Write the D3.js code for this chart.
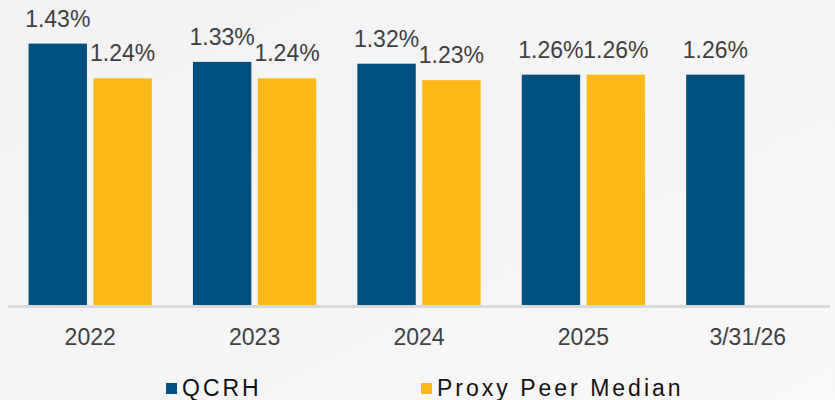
<!DOCTYPE html>
<html>
<head>
<meta charset="utf-8">
<script src="https://cdn.jsdelivr.net/npm/d3@7"></script>
<style>
  html, body { margin: 0; padding: 0; background: #f4f4f4; }
  svg { display: block; font-family: "Liberation Sans", Arial, Helvetica, sans-serif; }
</style>
</head>
<body>
<div id="chart"></div>
<script>
// --- data ---
const categories = ['2022', '2023', '2024', '2025', '3/31/26'];
const seriesNames = ['QCRH', 'Proxy Peer Median'];
const qcrhValues = [1.43, 1.33, 1.32, 1.26, 1.26];
const peerValues = [1.24, 1.24, 1.23, 1.26, null];
const seriesColors = ['#00507f', '#fdb917'];

const width = 835;
const height = 400;

const svg = d3.select('#chart')
    .append('svg')
        .attr('width', width)
        .attr('height', height);

// background: soft grey gradient
const defs = svg.append('defs');
const grad = defs.append('linearGradient')
    .attr('id', 'bg')
    .attr('x1', 0).attr('y1', 0).attr('x2', 1).attr('y2', 1);
grad.append('stop').attr('offset', '0%').attr('stop-color', '#f2f2f2');
grad.append('stop').attr('offset', '60%').attr('stop-color', '#f5f5f5');
grad.append('stop').attr('offset', '100%').attr('stop-color', '#f8f8f8');

svg.append('rect')
    .attr('width', width)
    .attr('height', height)
    .attr('fill', 'url(#bg)');

// scales
const x = d3.scaleBand()
    .domain(categories)
    .range([8, 830])
    .paddingInner(0.25)
    .paddingOuter(0.125);

const xSub = d3.scaleBand()
    .domain(seriesNames)
    .range([0, x.bandwidth()])
    .paddingInner(0.1);

const y = d3.scaleLinear()
    .domain([0, 1.6])
    .range([305, 12.5]);

// build rows for the bars
const rows = [];
categories.forEach((c, i) => {
    rows.push({cat: c, series: seriesNames[0], value: qcrhValues[i]});
    if (peerValues[i] != null) rows.push({cat: c, series: seriesNames[1], value: peerValues[i]});
});

const color = d3.scaleOrdinal().domain(seriesNames).range(seriesColors);

// baseline
svg.append('line')
    .attr('x1', 8)
    .attr('x2', 830)
    .attr('y1', y(0) + 1.5)
    .attr('y2', y(0) + 1.5)
    .attr('stroke', '#d9d9d9')
    .attr('stroke-width', 3);

// bars
svg.append('g')
    .selectAll('rect')
    .data(rows)
    .join('rect')
        .attr('x', d => x(d.cat) + xSub(d.series))
        .attr('y', d => y(d.value))
        .attr('width', xSub.bandwidth())
        .attr('height', d => y(0) - y(d.value))
        .attr('fill', d => color(d.series));

// value labels
svg.append('g')
    .selectAll('text')
    .data(rows)
    .join('text')
        .attr('x', d => x(d.cat) + xSub(d.series) + xSub.bandwidth() / 2)
        .attr('y', d => y(d.value) - 17)
        .attr('text-anchor', 'middle')
        .style('font-size', '23px')
        .style('fill', '#404040')
        .text(d => d.value.toFixed(2) + '%');

// category labels
const xAxis = d3.axisBottom(x).tickSize(0).tickPadding(0);
const axisG = svg.append('g')
    .attr('transform', `translate(0, ${y(0)})`)
    .call(xAxis);
axisG.select('.domain').remove();
axisG.selectAll('text')
    .attr('dy', null)
    .attr('y', 40)
    .style('font-family', '"Liberation Sans", Arial, sans-serif')
    .style('font-size', '23px')
    .style('fill', '#404040');

// legend
const legendX = [166, 421];
const legend = svg.append('g')
    .selectAll('g')
    .data(seriesNames)
    .join('g')
        .attr('transform', (d, i) => `translate(${legendX[i]}, 0)`);

legend.append('rect')
    .attr('x', 0)
    .attr('y', 383)
    .attr('width', 11)
    .attr('height', 11)
    .attr('fill', d => color(d));

legend.append('text')
    .attr('x', 16)
    .attr('y', 396)
    .style('font-size', '23px')
    .style('letter-spacing', '3px')
    .style('fill', '#111')
    .text(d => d);
</script>
</body>
</html>
